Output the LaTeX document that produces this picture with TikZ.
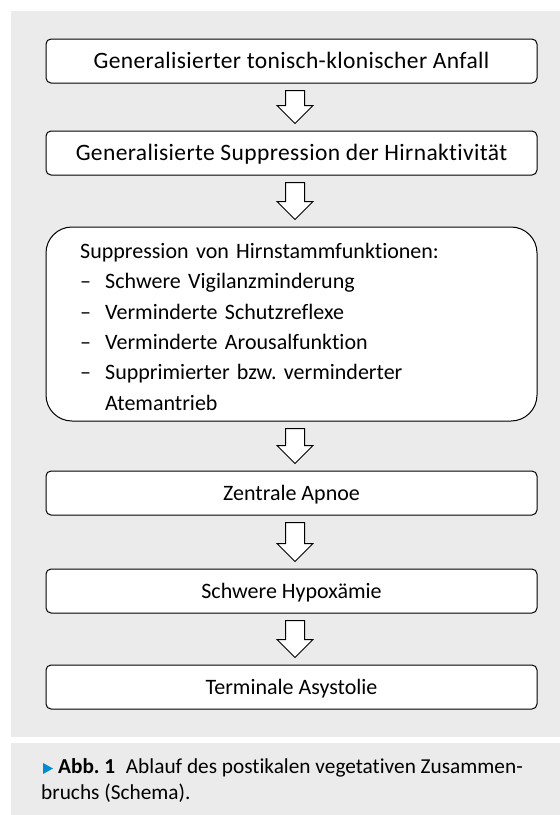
\documentclass[tikz,border=0pt]{standalone}
\usepackage{fontspec}
\setmainfont{Carlito}[Ligatures={NoCommon}]
\newfontfamily\spacedfont{Carlito}[Ligatures={NoCommon}, LetterSpace=1.6]
\frenchspacing
\usetikzlibrary{calc}
\definecolor{panelgray}{RGB}{235,235,235}
\definecolor{abbblue}{RGB}{0,140,210}
\tikzset{
  flowbox/.style={draw=black, line width=1pt, fill=white, rounded corners=5pt,
    minimum width=491pt, minimum height=44pt, inner sep=0pt,
    text height=14.2pt, text depth=0pt,
    font=\fontsize{22}{30}\selectfont},
  spacedflow/.style={flowbox, text height=15pt, font=\spacedfont\fontsize{23.5}{30}\selectfont},
  bigbox/.style={draw=black, line width=1pt, fill=white, rounded corners=26pt,
    minimum width=491pt, minimum height=194pt, inner sep=0pt},
  bigtext/.style={inner sep=0pt, text width=440pt, align=left,
    font=\fontsize{22}{30.4}\selectfont},
  blockarrow/.style={draw=black, line width=1pt, fill=white, line join=miter},
  captext/.style={anchor=base west, inner sep=0pt, font=\fontsize{21.3}{27}\selectfont}
}
\newcommand{\flowarrow}[2]{%
  \draw[blockarrow]
    ($(#1.south)+(3.5-9.5,7)$) --
    ($(#2.north)+(3.5-9.5,-25)$) --
    ($(#2.north)+(3.5-18,-25)$) --
    ($(#2.north)+(3.5,-7)$) --
    ($(#2.north)+(3.5+18,-25)$) --
    ($(#2.north)+(3.5+9.5,-25)$) --
    ($(#1.south)+(3.5+9.5,7)$) -- cycle;}
\begin{document}
\begin{tikzpicture}[x=1pt,y=-1pt]
\useasboundingbox (0,0) rectangle (560,815);
\fill[panelgray] (11,11) rectangle (560,737);
\fill[panelgray] (11,743) rectangle (560,815);

\node[spacedflow] (b1) at (291.5,61) {Generalisierter tonisch-klonischer Anfall};
\node[spacedflow] (b2) at (291.5,153) {Generalisierte Suppression der Hirnaktivität};
\node[bigbox] (b3) at (291.5,324) {};
\node[bigtext, anchor=north west] (b3t) at (80,238) {\rule{0pt}{20pt}Suppression von Hirnstammfunktionen:\\
\makebox[25pt][l]{–}Schwere Vigilanzminderung\\
\makebox[25pt][l]{–}Verminderte Schutzreflexe\\
\makebox[25pt][l]{–}Verminderte Arousalfunktion\\
\makebox[25pt][l]{–}Supprimierter bzw. verminderter\\
\hspace*{25pt}Atemantrieb};
\node[flowbox] (b4) at (291.5,493) {Zentrale Apnoe};
\node[flowbox] (b5) at (291.5,591) {Schwere Hypoxämie};
\node[flowbox] (b6) at (291.5,687) {Terminale Asystolie};

\flowarrow{b1}{b2}
\flowarrow{b2}{b3}
\flowarrow{b3}{b4}
\flowarrow{b4}{b5}
\flowarrow{b5}{b6}

\fill[abbblue] (43,763) -- (53,768.5) -- (43,774) -- cycle;
\node[captext] (cap1) at (58,773) {\textbf{Abb. 1}\enspace Ablauf des postikalen vegetativen Zusammen-};
\node[captext] (cap2) at (41,799) {bruchs (Schema).};
\end{tikzpicture}
\end{document}
